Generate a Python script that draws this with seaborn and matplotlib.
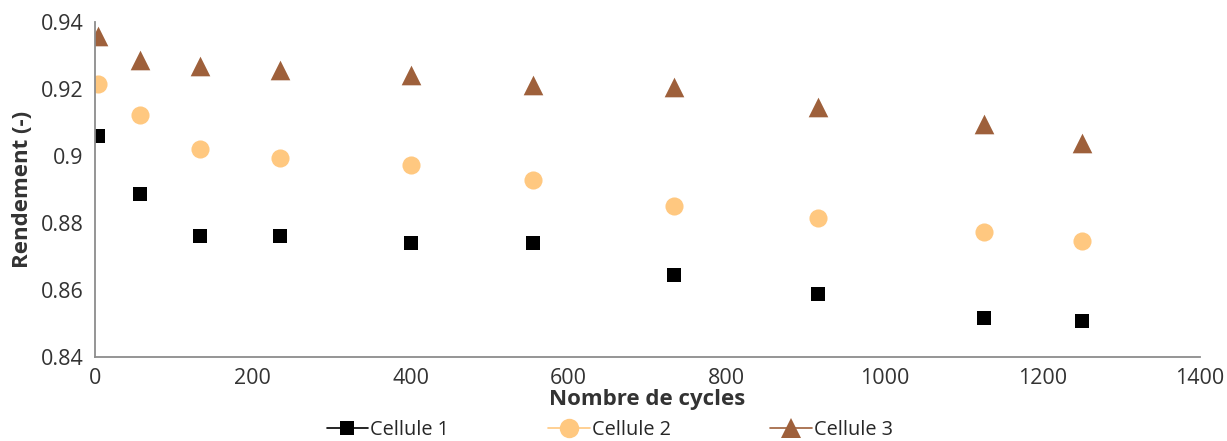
import seaborn as sns
import matplotlib.pyplot as plt
from matplotlib.lines import Line2D

# données
cycles = [4, 57, 133, 235, 400, 555, 734, 916, 1126, 1250]
cellule_1 = [0.9061, 0.8886, 0.8762, 0.8760, 0.8740, 0.8740, 0.8646, 0.8588, 0.8516, 0.8506]
cellule_2 = [0.9216, 0.9123, 0.9021, 0.8995, 0.8973, 0.8929, 0.8850, 0.8815, 0.8773, 0.8745]
cellule_3 = [0.9358, 0.9286, 0.9268, 0.9256, 0.9241, 0.9211, 0.9207, 0.9146, 0.9096, 0.9040]
labels = ['Cellule 1', 'Cellule 2', 'Cellule 3']
x_ticks = [0, 200, 400, 600, 800, 1000, 1200, 1400]
y_ticks = [0.84, 0.86, 0.88, 0.9, 0.92, 0.94]
y_tick_labels = ['0.84', '0.86', '0.88', '0.9', '0.92', '0.94']

colors = ['#000000', '#FFC880', '#9E603B']
markers = ['s', 'o', '^']
sizes = [95, 170, 200]

sns.set_style('white')
plt.rcParams['font.family'] = ['Open Sans', 'DejaVu Sans']

fig = plt.figure(figsize=(12.27, 4.41), dpi=100)
ax = fig.add_axes([0.0774, 0.1905, 0.9006, 0.7595])

for y, lab, c, m, s in zip([cellule_1, cellule_2, cellule_3], labels, colors, markers, sizes):
    sns.scatterplot(x=cycles, y=y, ax=ax, color=c, marker=m, s=s, linewidth=0, label=lab, legend=False)

ax.set_xlim(0, 1400)
ax.set_ylim(0.84, 0.94)
ax.set_xticks(x_ticks)
ax.set_yticks(y_ticks)
ax.set_yticklabels(y_tick_labels)

for side in ['top', 'right']:
    ax.spines[side].set_visible(False)
for side in ['left', 'bottom']:
    ax.spines[side].set_color('#8c8c8c')
    ax.spines[side].set_linewidth(1.3)

ax.tick_params(axis='both', direction='in', length=8, width=1.1, color='#8c8c8c',
               labelsize=15.5, labelcolor='#333333')
ax.tick_params(axis='x', pad=8)
ax.tick_params(axis='y', pad=8)

ax.set_xlabel('Nombre de cycles', fontsize=16, fontweight='bold', color='#333333', labelpad=0)
ax.set_ylabel('Rendement (-)', fontsize=16, fontweight='bold', color='#333333', labelpad=6)

handles = [Line2D([0], [0], color=c, marker=m, markersize=ms, linewidth=1.2, markeredgewidth=0)
           for c, m, ms in zip(colors, markers, [10, 14, 14])]
fig.legend(handles, labels, loc='center', bbox_to_anchor=(0.497, 0.025), ncol=3,
           frameon=False, fontsize=14.3, handlelength=2.1, handletextpad=0.1,
           columnspacing=5.0)

plt.savefig('out.png', dpi=100)
